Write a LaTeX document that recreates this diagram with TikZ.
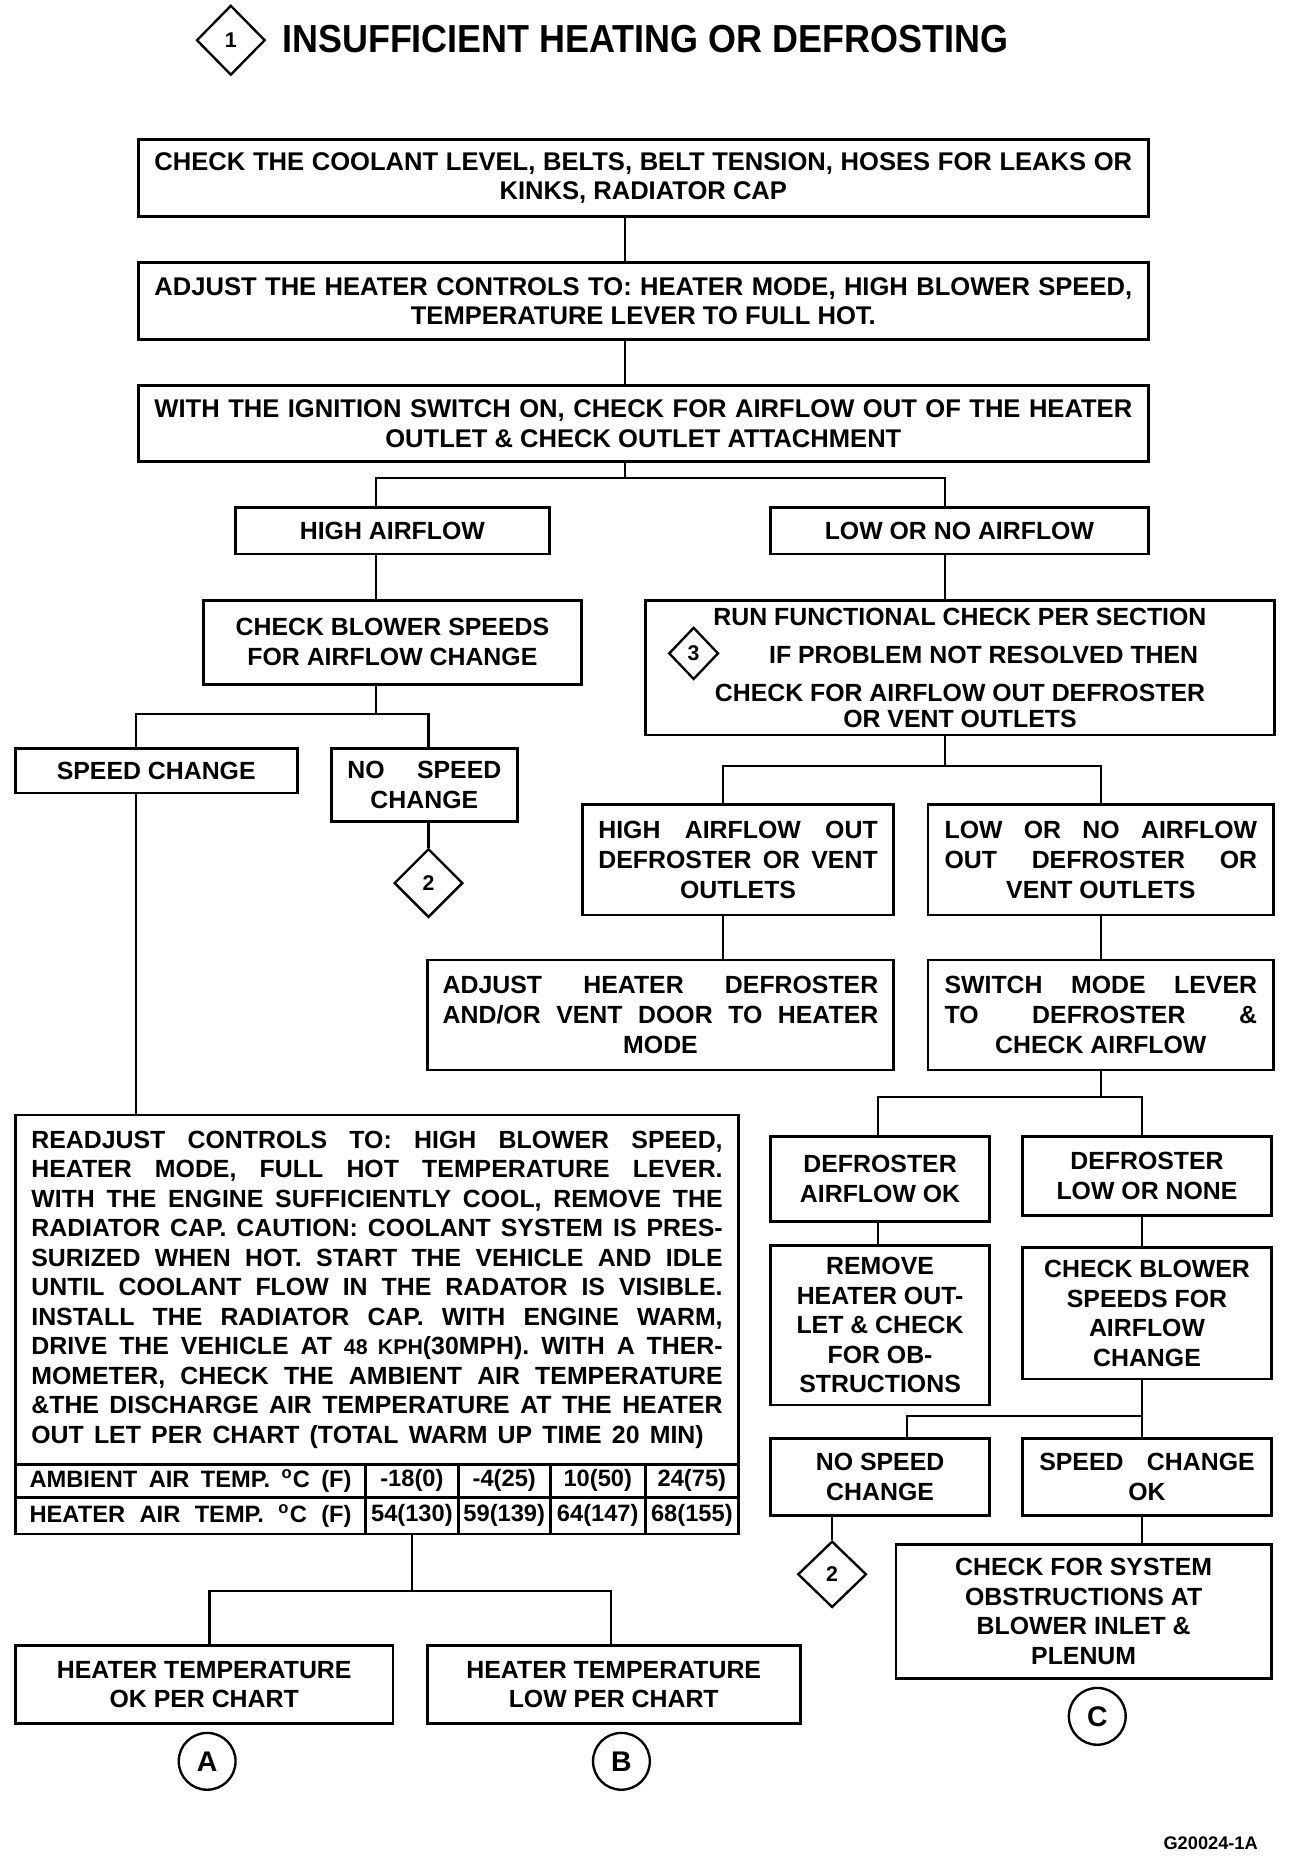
\documentclass[tikz,border=0pt]{standalone}
\usepackage{fontspec}
\setmainfont{Liberation Sans}
\newfontfamily\titlefont[FakeStretch=0.92]{Liberation Sans}
\usetikzlibrary{shapes.geometric,positioning,calc}

% justified line of given width (in pt)
\newcommand\js[2]{\makebox[#1pt][s]{#2}}

\begin{document}
\begin{tikzpicture}[x=0.5pt,y=-0.5pt,
  box/.style={draw,line width=1.2pt,inner sep=0pt,align=center,font=\bfseries\fontsize{10.5}{12.5}\selectfont},
  topbox/.style={box,minimum width=426.5pt,minimum height=32.5pt,font=\bfseries\fontsize{10.8}{12.5}\selectfont},
  dia/.style={draw,diamond,line width=1pt,inner sep=0pt,font=\bfseries\fontsize{9}{9}\selectfont},
  ring/.style={draw,circle,line width=1pt,minimum size=24pt,inner sep=0pt,font=\bfseries\fontsize{12}{12}\selectfont},
  cell/.style={draw,line width=1.2pt,inner sep=0pt,font=\bfseries\fontsize{10}{10}\selectfont},
  link/.style={line width=0.9pt}]
\useasboundingbox (0,0) rectangle (1095,1568);

% title
\node[dia,minimum width=29pt,minimum height=29.5pt] (d1) at (195,34) {1};
\node[anchor=west,inner sep=0pt,font=\titlefont\bfseries\fontsize{16.5}{16.5}\selectfont] (tt) at (238,33) {INSUFFICIENT HEATING OR DEFROSTING};

% main column
\node[topbox] (c1) at (543.5,150.5) {\js{413}{CHECK THE COOLANT LEVEL, BELTS, BELT TENSION, HOSES FOR LEAKS OR}\\KINKS, RADIATOR CAP};
\node[topbox] (c2) at (543.5,254.5) {\js{413}{ADJUST THE HEATER CONTROLS TO: HEATER MODE, HIGH BLOWER SPEED,}\\TEMPERATURE LEVER TO FULL HOT.};
\node[topbox,minimum height=32pt] (c3) at (543.5,358) {\js{413}{WITH THE IGNITION SWITCH ON, CHECK FOR AIRFLOW OUT OF THE HEATER}\\OUTLET \& CHECK OUTLET ATTACHMENT};
\node[box,minimum width=132.5pt,minimum height=19.5pt] (hi) at (331.5,448.5) {HIGH AIRFLOW};
\node[box,minimum width=159.5pt,minimum height=19.5pt] (lo) at (810.5,448.5) {LOW OR NO AIRFLOW};

% left branch
\node[box,minimum width=159.5pt,minimum height=35.5pt] (cb) at (331.5,542.5) {CHECK BLOWER SPEEDS\\FOR AIRFLOW CHANGE};
\node[box,minimum width=119pt,minimum height=19pt] (sc) at (132,651) {SPEED CHANGE};
\node[box,minimum width=78.5pt,minimum height=31pt] (ns) at (358.5,663) {\js{65}{NO SPEED}\\CHANGE};
\node[dia,minimum width=29pt,minimum height=29pt] (d2a) at (362,746) {2};
\node[box,minimum width=305.5pt,minimum height=147.5pt,align=left,font=\bfseries\fontsize{10.5}{12.45}\selectfont] (rd) at (318.5,1089.5) {%
\js{292}{READJUST CONTROLS TO: HIGH BLOWER SPEED,}\\
\js{292}{HEATER MODE, FULL HOT TEMPERATURE LEVER.}\\
\js{292}{WITH THE ENGINE SUFFICIENTLY COOL, REMOVE THE}\\
\js{292}{RADIATOR CAP. CAUTION: COOLANT SYSTEM IS PRES-}\\
\js{292}{SURIZED WHEN HOT. START THE VEHICLE AND IDLE}\\
\js{292}{UNTIL COOLANT FLOW IN THE RADATOR IS VISIBLE.}\\
\js{292}{INSTALL THE RADIATOR CAP. WITH ENGINE WARM,}\\
\js{292}{DRIVE THE VEHICLE AT {\fontsize{9}{9}\selectfont 48 KPH}(30MPH). WITH A THER-}\\
\js{292}{MOMETER, CHECK THE AMBIENT AIR TEMPERATURE}\\
\js{292}{\&THE DISCHARGE AIR TEMPERATURE AT THE HEATER}\\
\js{284}{OUT LET PER CHART (TOTAL WARM UP TIME 20 MIN)}};
\node[cell,minimum width=148pt,minimum height=14pt] (a0) at (161,1251) {\js{136}{AMBIENT AIR TEMP. \textsuperscript{o}C (F)}};
\node[cell,minimum width=39pt,minimum height=14pt] (a1) at (348,1251) {-18(0)};
\node[cell,minimum width=39pt,minimum height=14pt] (a2) at (426,1251) {-4(25)};
\node[cell,minimum width=40pt,minimum height=14pt] (a3) at (505,1251) {10(50)};
\node[cell,minimum width=39.5pt,minimum height=14pt] (a4) at (584.5,1251) {24(75)};
\node[cell,minimum width=148pt,minimum height=15.5pt] (h0) at (161,1280.5) {\js{136}{HEATER AIR TEMP. \textsuperscript{o}C (F)}};
\node[cell,minimum width=39pt,minimum height=15.5pt] (h1) at (348,1280.5) {54(130)};
\node[cell,minimum width=39pt,minimum height=15.5pt] (h2) at (426,1280.5) {59(139)};
\node[cell,minimum width=40pt,minimum height=15.5pt] (h3) at (505,1280.5) {64(147)};
\node[cell,minimum width=39.5pt,minimum height=15.5pt] (h4) at (584.5,1280.5) {68(155)};
\node[box,minimum width=159.5pt,minimum height=33pt] (hok) at (172.5,1423) {HEATER TEMPERATURE\\OK PER CHART};
\node[box,minimum width=157.5pt,minimum height=33pt] (hlo) at (518.5,1423) {HEATER TEMPERATURE\\LOW PER CHART};
\node[ring] (A) at (175,1488) {A};
\node[ring] (B) at (525,1488) {B};

% right branch
\node[box,minimum width=266pt,minimum height=57pt] (rf) at (811,564) {RUN FUNCTIONAL CHECK PER SECTION\\[3.5pt]\hspace*{20pt}IF PROBLEM NOT RESOLVED THEN\\[3.5pt]CHECK FOR AIRFLOW OUT DEFROSTER\\[-1.5pt]OR VENT OUTLETS};
\node[dia,minimum width=21pt,minimum height=22pt] (d3) at (586,552) {3};
\node[box,minimum width=131.5pt,minimum height=46.5pt] (ho) at (623.5,726.5) {\js{118}{HIGH AIRFLOW OUT}\\\js{118}{DEFROSTER OR VENT}\\OUTLETS};
\node[box,minimum width=146pt,minimum height=46.5pt] (lno) at (930,726.5) {\js{132}{LOW OR NO AIRFLOW}\\\js{132}{OUT DEFROSTER OR}\\VENT OUTLETS};
\node[box,minimum width=197pt,minimum height=46.5pt] (adj) at (558,857.5) {\js{184}{ADJUST HEATER DEFROSTER}\\\js{184}{AND/OR VENT DOOR TO HEATER}\\MODE};
\node[box,minimum width=146pt,minimum height=46.5pt] (sw) at (930,857.5) {\js{132}{SWITCH MODE LEVER}\\\js{132}{TO DEFROSTER \&}\\CHECK AIRFLOW};
\node[box,minimum width=92.5pt,minimum height=36pt] (dok) at (743.5,996) {DEFROSTER\\AIRFLOW OK};
\node[box,minimum width=105pt,minimum height=33.5pt] (dlo) at (969,993.5) {DEFROSTER\\LOW OR NONE};
\node[box,minimum width=92.5pt,minimum height=67.5pt] (rm) at (743.5,1119.5) {REMOVE\\HEATER OUT-\\LET \& CHECK\\FOR OB-\\STRUCTIONS};
\node[box,minimum width=105pt,minimum height=55.5pt] (cbr) at (969,1109.5) {CHECK BLOWER\\SPEEDS FOR\\AIRFLOW\\CHANGE};
\node[box,minimum width=92.5pt,minimum height=32.5pt] (nsr) at (743.5,1247.5) {NO SPEED\\CHANGE};
\node[box,minimum width=105pt,minimum height=32.5pt] (sok) at (969,1247.5) {\js{91}{SPEED CHANGE}\\OK};
\node[dia,minimum width=29pt,minimum height=28pt] (d2b) at (703,1330) {2};
\node[box,minimum width=158.5pt,minimum height=56.5pt] (obs) at (915.5,1361.5) {CHECK FOR SYSTEM\\OBSTRUCTIONS AT\\BLOWER INLET \&\\PLENUM};
\node[ring] (C) at (927,1450) {C};
\node[anchor=east,inner sep=0pt,font=\bfseries\fontsize{7.7}{8}\selectfont] (id) at (1063,1557) {G20024-1A};

% connectors
\coordinate (s0) at (528,0);
\coordinate (b1) at (318,404); \coordinate (b2) at (798,404);
\coordinate (b3) at (115,603); \coordinate (b4) at (362,603);
\coordinate (b5) at (611,647); \coordinate (b6) at (930,647);
\coordinate (b7) at (742,927); \coordinate (b8) at (965,927);
\coordinate (b9) at (766,1196); \coordinate (b10) at (965,1196);
\coordinate (b11) at (177,1344); \coordinate (b12) at (516,1344);
\draw[link] (c1.south -| s0) -- (c2.north -| s0);
\draw[link] (c2.south -| s0) -- (c3.north -| s0);
\draw[link] (c3.south -| s0) -- (s0 |- b1);
\draw[link] (hi.north -| b1) -- (b1) -- (b2) -- (lo.north -| b2);
\draw[link] (hi.south -| b1) -- (cb.north -| b1);
\draw[link] (lo.south -| b2) -- (rf.north -| b2);
\draw[link] (cb.south -| b1) -- (b1 |- b3);
\draw[link] (sc.north -| b3) -- (b3) -- (b4) -- (ns.north -| b4);
\draw[link] (ns.south -| b4) -- (d2a.north);
\draw[link] (sc.south -| b3) -- (rd.north -| b3);
\draw[link] (h1.south) -- (h1.south |- b11);
\draw[link] (hok.north -| b11) -- (b11) -- (b12) -- (hlo.north -| b12);
\draw[link] (rf.south -| b2) -- (b2 |- b5);
\draw[link] (ho.north -| b5) -- (b5) -- (b6) -- (lno.north -| b6);
\draw[link] (ho.south -| b5) -- (adj.north -| b5);
\draw[link] (lno.south) -- (sw.north);
\draw[link] (sw.south) -- (sw.south |- b7);
\draw[link] (dok.north -| b7) -- (b7) -- (b8) -- (dlo.north -| b8);
\draw[link] (dok.south -| b7) -- (rm.north -| b7);
\draw[link] (dlo.south -| b8) -- (cbr.north -| b8);
\draw[link] (cbr.south -| b10) -- (b10);
\draw[link] (nsr.north -| b9) -- (b9) -- (b10) -- (sok.north -| b10);
\draw[link] (nsr.south -| d2b) -- (d2b.north);
\draw[link] (sok.south -| b10) -- (obs.north -| b10);
\end{tikzpicture}
\end{document}
